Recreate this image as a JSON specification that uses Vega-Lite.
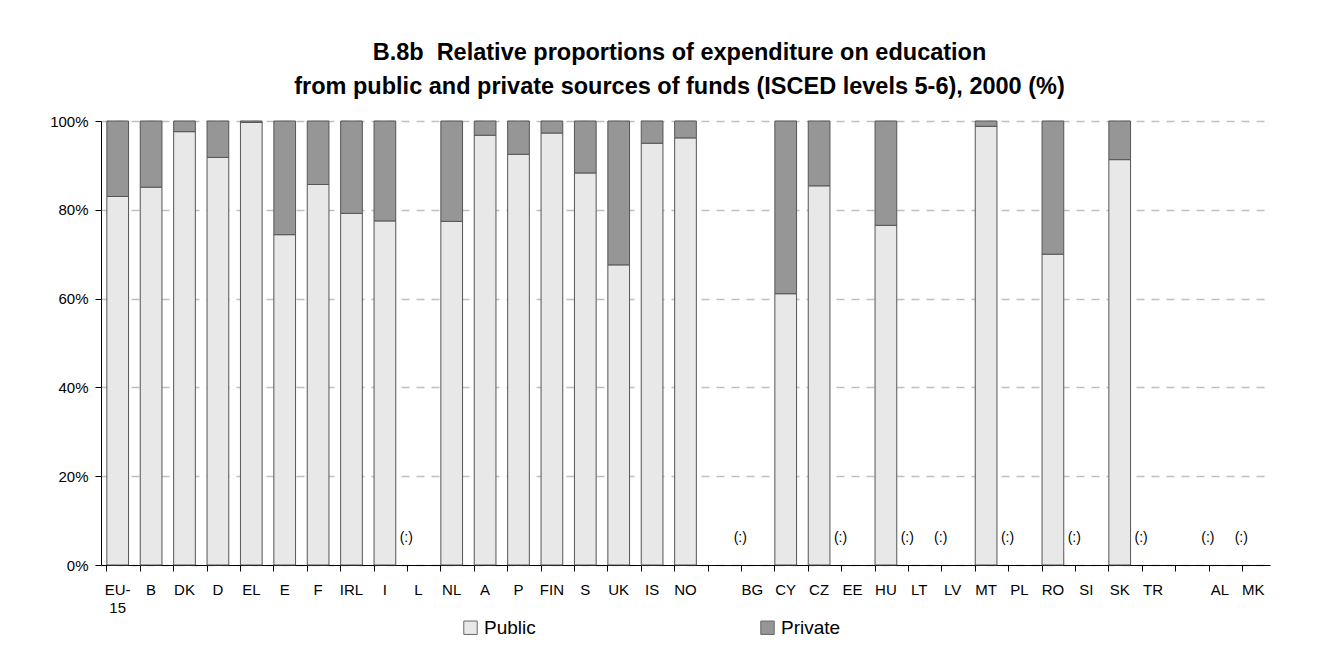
{
  "$schema": "https://vega.github.io/schema/vega-lite/v6.json",
  "width": 1169,
  "height": 444,
  "autosize": {"type": "none"},
  "padding": {"left": 101, "top": 121, "right": 74, "bottom": 91},
  "background": "white",
  "title": {
    "text": ["B.8b\u00a0\u00a0Relative proportions of expenditure on education", "from public and private sources of funds (ISCED levels 5-6), 2000 (%)"],
    "font": "Liberation Sans",
    "fontSize": 23.5,
    "fontWeight": "bold",
    "lineHeight": 34,
    "anchor": "middle",
    "offset": 16,
    "dx": -6,
    "color": "#000000"
  },
  "datasets": {
    "bars": [
      {"country": "EU-15", "series": "Public", "value": 83.0},
      {"country": "EU-15", "series": "Private", "value": 17.0},
      {"country": "B", "series": "Public", "value": 85.1},
      {"country": "B", "series": "Private", "value": 14.9},
      {"country": "DK", "series": "Public", "value": 97.6},
      {"country": "DK", "series": "Private", "value": 2.4},
      {"country": "D", "series": "Public", "value": 91.8},
      {"country": "D", "series": "Private", "value": 8.2},
      {"country": "EL", "series": "Public", "value": 99.7},
      {"country": "EL", "series": "Private", "value": 0.3},
      {"country": "E", "series": "Public", "value": 74.4},
      {"country": "E", "series": "Private", "value": 25.6},
      {"country": "F", "series": "Public", "value": 85.7},
      {"country": "F", "series": "Private", "value": 14.3},
      {"country": "IRL", "series": "Public", "value": 79.2},
      {"country": "IRL", "series": "Private", "value": 20.8},
      {"country": "I", "series": "Public", "value": 77.5},
      {"country": "I", "series": "Private", "value": 22.5},
      {"country": "NL", "series": "Public", "value": 77.4},
      {"country": "NL", "series": "Private", "value": 22.6},
      {"country": "A", "series": "Public", "value": 96.8},
      {"country": "A", "series": "Private", "value": 3.2},
      {"country": "P", "series": "Public", "value": 92.5},
      {"country": "P", "series": "Private", "value": 7.5},
      {"country": "FIN", "series": "Public", "value": 97.3},
      {"country": "FIN", "series": "Private", "value": 2.7},
      {"country": "S", "series": "Public", "value": 88.3},
      {"country": "S", "series": "Private", "value": 11.7},
      {"country": "UK", "series": "Public", "value": 67.6},
      {"country": "UK", "series": "Private", "value": 32.4},
      {"country": "IS", "series": "Public", "value": 95.0},
      {"country": "IS", "series": "Private", "value": 5.0},
      {"country": "NO", "series": "Public", "value": 96.2},
      {"country": "NO", "series": "Private", "value": 3.8},
      {"country": "CY", "series": "Public", "value": 61.1},
      {"country": "CY", "series": "Private", "value": 38.9},
      {"country": "CZ", "series": "Public", "value": 85.4},
      {"country": "CZ", "series": "Private", "value": 14.6},
      {"country": "HU", "series": "Public", "value": 76.5},
      {"country": "HU", "series": "Private", "value": 23.5},
      {"country": "MT", "series": "Public", "value": 98.8},
      {"country": "MT", "series": "Private", "value": 1.2},
      {"country": "RO", "series": "Public", "value": 70.0},
      {"country": "RO", "series": "Private", "value": 30.0},
      {"country": "SK", "series": "Public", "value": 91.3},
      {"country": "SK", "series": "Private", "value": 8.7}
    ],
    "missing": [
      {"country": "L", "label": "(:)"},
      {"country": "BG", "label": "(:)"},
      {"country": "EE", "label": "(:)"},
      {"country": "LT", "label": "(:)"},
      {"country": "LV", "label": "(:)"},
      {"country": "PL", "label": "(:)"},
      {"country": "SI", "label": "(:)"},
      {"country": "TR", "label": "(:)"},
      {"country": "AL", "label": "(:)"},
      {"country": "MK", "label": "(:)"}
    ]
  },
  "layer": [
    {
      "data": {"name": "bars"},
      "mark": {"type": "bar", "stroke": "#555555", "strokeWidth": 1},
      "encoding": {
        "x": {
          "field": "country",
          "type": "nominal",
          "scale": {
            "domain": ["EU-15","B","DK","D","EL","E","F","IRL","I","L","NL","A","P","FIN","S","UK","IS","NO"," ","BG","CY","CZ","EE","HU","LT","LV","MT","PL","RO","SI","SK","TR","  ","AL","MK"],
            "paddingInner": 0.35,
            "paddingOuter": 0.175
          },
          "axis": {
            "title": null,
            "labelAngle": 0,
            "bandPosition": 0,
            "tickSize": 6,
            "labelPadding": 11,
            "labelFontSize": 15,
            "labelLineHeight": 18,
            "labelOverlap": false,
            "labelExpr": "datum.value == 'EU-15' ? ['EU-', '15'] : datum.value"
          }
        },
        "y": {
          "field": "value",
          "type": "quantitative",
          "stack": "zero",
          "scale": {"domain": [0, 100], "nice": false},
          "axis": {
            "title": null,
            "values": [0, 20, 40, 60, 80, 100],
            "labelExpr": "datum.value + '%'",
            "tickSize": 6,
            "labelPadding": 7,
            "labelFontSize": 15,
            "grid": true,
            "gridDash": [8, 7],
            "gridColor": "#c0c0c0",
            "gridWidth": 1.5
          }
        },
        "color": {
          "field": "series",
          "type": "nominal",
          "scale": {"domain": ["Public", "Private"], "range": ["#e8e8e8", "#969696"]},
          "legend": {
            "title": null,
            "orient": "none",
            "legendX": 360,
            "legendY": 497,
            "direction": "horizontal",
            "symbolType": "square",
            "symbolSize": 180,
            "symbolStrokeColor": "#666666",
            "symbolStrokeWidth": 1,
            "labelFontSize": 19,
            "labelFont": "Liberation Sans",
            "labelColor": "#000000",
            "columnPadding": 222,
            "labelOffset": 4
          }
        },
        "order": {"field": "series", "sort": "descending"}
      }
    },
    {
      "data": {"name": "missing"},
      "mark": {"type": "text", "dx": -12, "dy": -27, "font": "Liberation Sans", "fontSize": 14, "color": "#000000", "baseline": "middle"},
      "encoding": {
        "x": {"field": "country", "type": "nominal"},
        "y": {"datum": 0, "type": "quantitative"},
        "text": {"field": "label"}
      }
    }
  ],
  "config": {
    "view": {"stroke": null},
    "axis": {
      "labelFont": "Liberation Sans",
      "labelColor": "#000000",
      "domainColor": "#000000",
      "tickColor": "#000000",
      "domainWidth": 1,
      "tickWidth": 1
    }
  }
}
